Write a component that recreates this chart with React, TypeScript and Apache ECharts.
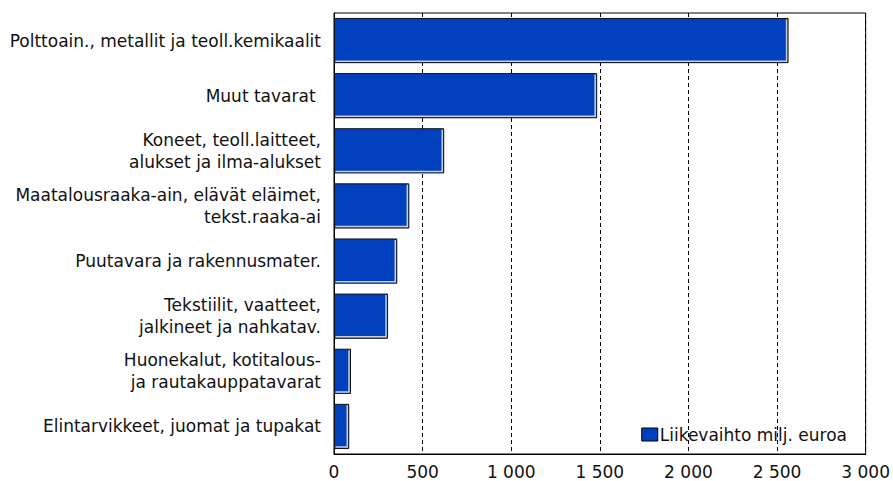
import React, { useEffect, useRef } from "react";
import * as echarts from "echarts";

const categories = [
  "Polttoain., metallit ja teoll.kemikaalit",
  "Muut tavarat ",
  "Koneet, teoll.laitteet,\nalukset ja ilma-alukset",
  "Maatalousraaka-ain, elävät eläimet,\ntekst.raaka-ai",
  "Puutavara ja rakennusmater.",
  "Tekstiilit, vaatteet,\njalkineet ja nahkatav.",
  "Huonekalut, kotitalous-\nja rautakauppatavarat",
  "Elintarvikkeet, juomat ja tupakat",
];
const values = [2565, 1485, 622, 425, 357, 305, 96, 86];
const seriesName = "Liikevaihto milj. euroa";

export default function App() {
  const ref = useRef<HTMLDivElement>(null);
  useEffect(() => {
    if (!ref.current) return;
    const chart = echarts.init(ref.current, null, { renderer: "svg" });
    const font = "'DejaVu Sans', sans-serif";
    const fs = 17;
    const gapRatio = 0.18;
    chart.setOption({
      animation: false,
      backgroundColor: "#ffffff",
      grid: {
        left: 334,
        right: 25,
        top: 13,
        bottom: 27,
        show: true,
        borderColor: "#000",
        borderWidth: 1,
        backgroundColor: "transparent",
      },
      legend: {
        data: [{ name: seriesName, icon: "rect" }],
        right: 41,
        top: 421,
        itemWidth: 16,
        itemHeight: 13,
        textStyle: { fontFamily: font, fontSize: fs, color: "#111", padding: [0, 0, 0, -3] },
        itemStyle: { borderColor: "#000", borderWidth: 1 },
      },
      xAxis: {
        type: "value",
        min: 0,
        max: 3000,
        interval: 500,
        axisLine: { show: true, lineStyle: { color: "#000" } },
        axisTick: { show: false },
        axisLabel: {
          fontFamily: font,
          fontSize: fs,
          color: "#111",
          margin: 9,
          formatter: (v: number) => String(v).replace(/\B(?=(\d{3})+(?!\d))/g, " "),
        },
        splitLine: {
          show: true,
          lineStyle: { color: "#000", type: [4, 3], width: 1 },
        },
      },
      yAxis: {
        type: "category",
        inverse: true,
        data: categories,
        axisLine: { show: true, lineStyle: { color: "#000" } },
        axisTick: { show: false },
        axisLabel: {
          fontFamily: font,
          fontSize: fs,
          color: "#111",
          lineHeight: 22,
          margin: 13,
          align: "right",
        },
      },
      series: [
        {
          name: seriesName,
          type: "bar",
          data: values,
          barCategoryGap: gapRatio * 100 + "%",
          itemStyle: {
            color: "#0040BF",
            borderColor: "#111",
            borderWidth: 1,
          },
        },
        {
          name: "bevel",
          type: "custom",
          silent: true,
          z: 3,
          data: values.map((v, i) => [v, i]),
          renderItem: (params: any, api: any) => {
            const end = api.coord([api.value(0), api.value(1)]);
            const start = api.coord([0, api.value(1)]);
            const band = api.size([0, 1])[1];
            const h = band * (1 - gapRatio);
            const top = end[1] - h / 2;
            const bottom = end[1] + h / 2;
            return {
              type: "polyline",
              shape: {
                points: [
                  [end[0] - 2, top + 1.5],
                  [end[0] - 2, bottom - 2],
                  [start[0] + 1.5, bottom - 2],
                ],
              },
              style: { stroke: "#c8cfe0", lineWidth: 1.5, fill: null },
            };
          },
        },
      ],
    });
    return () => chart.dispose();
  }, []);
  return (
    <div
      ref={ref}
      style={{ position: "fixed", left: 0, top: 0, width: 893, height: 481 }}
    />
  );
}
